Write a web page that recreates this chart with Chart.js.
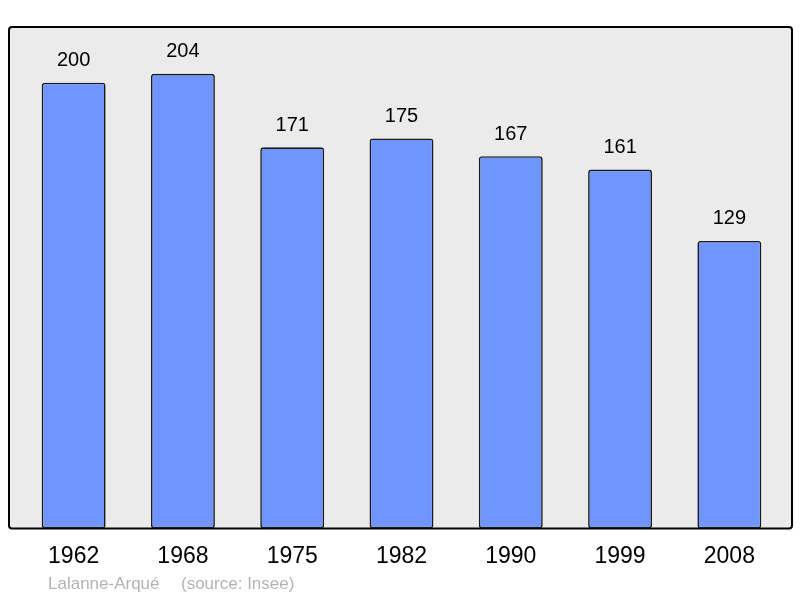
<!DOCTYPE html>
<html>
<head>
<meta charset="utf-8">
<script src="https://cdn.jsdelivr.net/npm/chart.js@4/dist/chart.umd.min.js"></script>
<style>
    html, body { margin: 0; padding: 0; background: #fff; }
    #wrap { width: 800px; height: 598px; }
</style>
</head>
<body>
<div id="wrap"><canvas id="pop-chart"></canvas></div>
<script>
const YEARS  = ["1962", "1968", "1975", "1982", "1990", "1999", "2008"];
const VALUES = [200, 204, 171, 175, 167, 161, 129];
const AUTHOR = "Lalanne-Arqué";
const SOURCE = "(source: Insee)";

const FONT = "'Liberation Sans', Arial, sans-serif";

// 背景の枠
const framePlugin = {
    id: 'frame',
    beforeDraw(chart) {
        const { ctx, chartArea } = chart;
        const x = chartArea.left - 10;
        const y = chartArea.top;
        const w = chartArea.right - chartArea.left + 18;
        const h = chartArea.bottom - chartArea.top;
        ctx.save();
        ctx.beginPath();
        ctx.roundRect(x, y, w, h, 3);
        ctx.fillStyle = '#ebebeb';
        ctx.fill();
        ctx.lineWidth = 2;
        ctx.strokeStyle = '#000';
        ctx.stroke();
        ctx.restore();
    }
};

// 値ラベルとフッター
const labelPlugin = {
    id: 'labels',
    afterDatasetsDraw(chart) {
        const { ctx } = chart;
        const meta = chart.getDatasetMeta(0);
        ctx.save();
        ctx.font = `20px ${FONT}`;
        ctx.fillStyle = '#000';
        ctx.textAlign = 'center';
        ctx.textBaseline = 'middle';
        meta.data.forEach((bar, i) => {
            ctx.fillText(String(VALUES[i]), bar.x, bar.y - 22);
        });
        ctx.font = `17px ${FONT}`;
        ctx.fillStyle = '#b3b3b3';
        ctx.textAlign = 'left';
        ctx.textBaseline = 'middle';
        ctx.fillText(AUTHOR, 48, 584);
        ctx.fillText(SOURCE, 181, 584);
        ctx.restore();
    }
};

const config = {
    type: 'bar',
    data: {
        labels: YEARS,
        datasets: [{
            data: VALUES,
            backgroundColor: '#7095ff',
            borderColor: '#1a1a1a',
            borderWidth: 1.6,
            borderRadius: 3,
            borderSkipped: false,
            barPercentage: 0.585,
            categoryPercentage: 1.0,
        }]
    },
    options: {
        responsive: false,
        animation: false,
        layout: {
            padding: { left: 19, right: 16, top: 27, bottom: 14 }
        },
        plugins: {
            legend: { display: false },
            tooltip: { enabled: false },
        },
        scales: {
            x: {
                grid: { display: false, drawTicks: false },
                border: { display: false },
                ticks: {
                    color: '#000',
                    padding: 14,
                    font: { family: FONT, size: 23 },
                }
            },
            y: {
                display: false,
                min: 0,
                max: 225,
            }
        }
    },
    plugins: [framePlugin, labelPlugin]
};

const canvas = document.getElementById('pop-chart');
canvas.width = 800;
canvas.height = 598;
new Chart(canvas, config);
</script>
</body>
</html>
